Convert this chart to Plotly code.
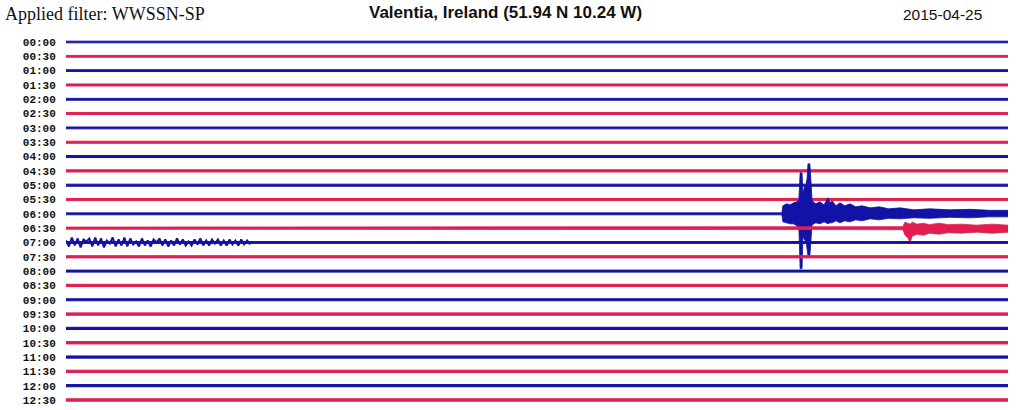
import plotly.graph_objects as go

# ---------------- data ----------------
row_labels = ["00:00", "00:30", "01:00", "01:30", "02:00", "02:30", "03:00", "03:30",
              "04:00", "04:30", "05:00", "05:30", "06:00", "06:30", "07:00", "07:30",
              "08:00", "08:30", "09:00", "09:30", "10:00", "10:30", "11:00", "11:30",
              "12:00", "12:30"]

# background noise level of each 30-minute line (amplitude units)
noise_amp = [0.8, 0.9, 0.9, 1.0, 0.9, 1.0, 0.9, 1.0, 1.0, 1.1, 1.0, 1.1, 1.0, 1.1,
             0.9, 1.1, 1.0, 1.1, 1.0, 1.2, 1.1, 1.2, 1.1, 1.2, 1.1, 1.2]

# 06:00 line: earthquake envelope (minutes into the line, upper / lower amplitude)
ev0600_t = [0, 22.80, 22.83, 22.95, 23.06, 23.17, 23.28, 23.34, 23.38, 23.44, 23.47,
            23.50, 23.57, 23.60, 23.63, 23.69, 23.73, 23.76, 23.88, 24.01, 24.14,
            24.27, 24.33, 24.40, 24.52, 24.65, 24.80, 24.97, 25.15, 25.35, 25.61,
            25.90, 26.20, 26.56, 27.0, 27.5, 28.15, 28.8, 29.4, 30]
ev0600_up = [1.0, 1.0, 8, 10, 9, 11, 12, 14, 41, 41, 20, 25, 30, 35, 50, 50, 30, 13,
             10, 12, 9, 16, 11, 13, 8, 11, 8, 10, 7, 8, 6, 7, 5, 6, 4, 5, 4, 4.5,
             3.5, 3.5]
ev0600_dn = [1.0, 1.0, 8, 9, 10, 10, 12, 14, 55, 55, 22, 25, 28, 33, 42, 42, 25, 11,
             9, 10, 8, 10, 9, 9, 7, 9, 7, 8, 6, 7, 5, 6, 4.5, 5, 4, 4.5, 3.5, 4,
             3, 3]

# 06:30 line: later arrivals
ev0630_t = [0, 24.0, 26.65, 26.72, 26.80, 26.88, 26.95, 27.1, 27.3, 27.5, 27.8, 28.1,
            28.5, 29.0, 29.5, 30]
ev0630_up = [1.1, 1.4, 1.5, 6, 5, 4, 6, 4, 5, 3.5, 5, 3.5, 4, 3, 4, 3]
ev0630_dn = [1.1, 1.4, 1.5, 7, 9, 14, 8, 6, 7, 5, 6, 4.5, 5, 4, 5, 4]

# 07:00 line: long-period surface-wave swings at the start (first ~5.9 minutes)
wave0700_end = 5.86
wave0700 = [2, -4, 5, -3, 4, -5, 3, 1, 4, -4, 5, -3, 4, -5, 2, -1, 5, -4, 3, -3,
            5, -4, 4, -2, 1, -4, 4, -3, 2, -4, 3, 0, 4, -3, 3, -4, 2, -3, 4, -2,
            3, -3, 1, -3, 3, -2, 4, -3, 2, -3, 3, -1, 3, -3, 2, -3, 3, -2, 2, -3,
            3, -2, 2, -2]

# ---------------- style ----------------
BLUE = "#1212a6"
RED = "#e01e50"
GAP = 14.32          # vertical spacing between lines (amplitude units == pixels)
MINUTES = 30

fig = go.Figure()


def band(center, t, up, dn, color, lw=1):
    xs = list(t) + list(t)[::-1]
    ys = [center + u for u in up] + [center - d for d in dn][::-1]
    fig.add_trace(go.Scatter(x=xs, y=ys, mode="lines", fill="toself",
                             fillcolor=color, line=dict(color=color, width=lw),
                             hoverinfo="skip", showlegend=False))


for i, lab in enumerate(row_labels):
    c = -i * GAP
    color = BLUE if i % 2 == 0 else RED
    a = noise_amp[i]
    if lab == "06:00":
        band(c, ev0600_t, ev0600_up, ev0600_dn, color, lw=0.8)
    elif lab == "06:30":
        band(c, ev0630_t, ev0630_up, ev0630_dn, color, lw=0.8)
    elif lab == "07:00":
        band(c, [0, MINUTES], [a, a], [a, a], color)
        n = len(wave0700)
        xs = [wave0700_end * k / (n - 1) for k in range(n)]
        fig.add_trace(go.Scatter(x=xs, y=[c + v for v in wave0700], mode="lines",
                                 line=dict(color=color, width=2),
                                 hoverinfo="skip", showlegend=False))
    else:
        band(c, [0, MINUTES], [a, a], [a, a], color)

W, H = 1017, 410
L, R, T, B = 66, 9, 28, 2
pw, ph = W - L - R, H - T - B


def px(x):          # page pixel -> paper x
    return (x - L) / pw


def py(y):          # page pixel -> paper y
    return (H - B - y) / ph


fig.update_layout(
    width=W, height=H,
    margin=dict(l=L, r=R, t=T, b=B),
    paper_bgcolor="white", plot_bgcolor="white",
    hovermode=False,
    xaxis=dict(range=[0, MINUTES], visible=False, fixedrange=True),
    yaxis=dict(range=[14 - ph, 14], showgrid=False, zeroline=False, showline=False,
               fixedrange=True,
               tickmode="array", tickvals=[-i * GAP for i in range(len(row_labels))],
               ticktext=row_labels, ticks="outside", ticklen=7,
               tickcolor="rgba(0,0,0,0)",
               tickfont=dict(family="Liberation Mono", size=11, color="#111",
                             weight="bold")),
    annotations=[
        dict(text="Applied filter: WWSSN-SP", xref="paper", yref="paper",
             x=px(3), y=py(14), xanchor="left", yanchor="middle", showarrow=False,
             font=dict(family="Liberation Serif", size=18, color="#111")),
        dict(text="Valentia, Ireland (51.94 N 10.24 W)", xref="paper", yref="paper",
             x=px(505), y=py(13), xanchor="center", yanchor="middle", showarrow=False,
             font=dict(family="Liberation Sans", size=17, color="#111",
                       weight="bold")),
        dict(text="2015-04-25", xref="paper", yref="paper",
             x=px(942), y=py(14), xanchor="center", yanchor="middle", showarrow=False,
             font=dict(family="Liberation Sans", size=15.5, color="#111")),
    ],
)

fig.write_html("out.html",
               config={"displayModeBar": False, "staticPlot": True},
               post_script="document.body.style.margin='0';"
                           "document.body.style.overflow='hidden';")
